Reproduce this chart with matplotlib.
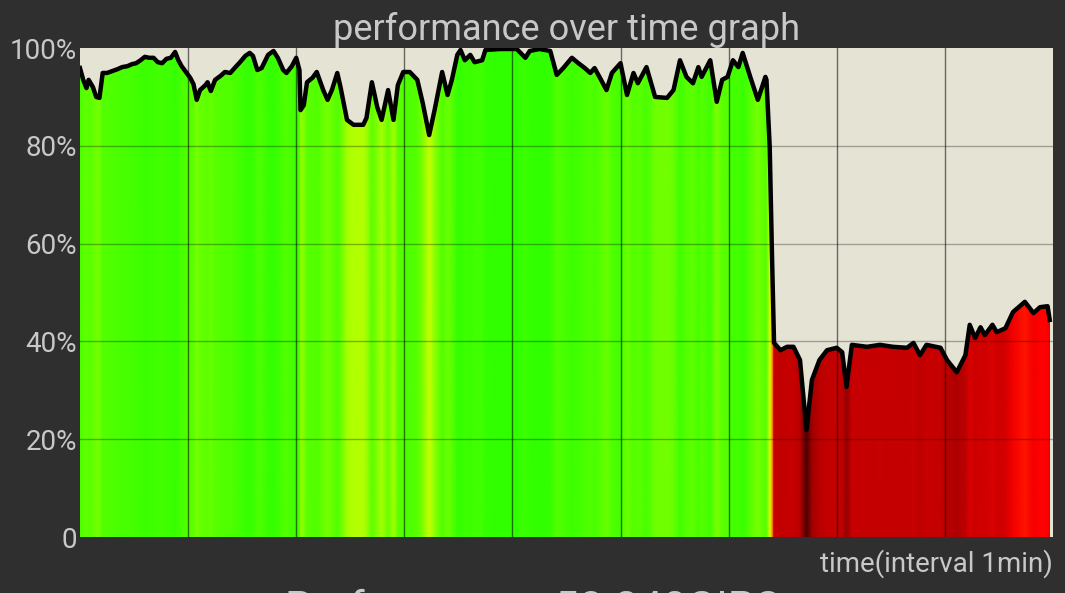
import numpy as np
import matplotlib
matplotlib.use("Agg")
import matplotlib.pyplot as plt
from matplotlib.colors import LinearSegmentedColormap, Normalize

# sample times (minutes) and performance (%)
times = [0.0, 0.3, 0.6, 0.8, 1.2, 1.5, 1.8, 2.1, 2.5, 3.0, 3.5, 3.9, 4.4, 4.8, 5.2, 5.6,
         6.0, 6.4, 6.8, 7.2, 7.6, 8.0, 8.4, 8.8, 9.1, 9.4, 9.8, 10.2, 10.5, 10.8, 11.1,
         11.6, 11.8, 12.1, 12.5, 13.0, 13.4, 13.9, 14.3, 14.8, 15.3, 15.7, 16.0, 16.4,
         16.8, 17.4, 17.9, 18.3, 18.8, 19.1, 19.6, 20.0, 20.3, 20.4, 20.7, 21.0, 21.5,
         21.9, 22.5, 22.9, 23.3, 23.8, 24.1, 24.7, 25.3, 26.2, 26.5, 27.0, 27.5, 27.9,
         28.5, 29.0, 29.4, 29.9, 30.5, 31.2, 31.7, 32.3, 32.8, 33.5, 34.0, 34.4, 34.9,
         35.2, 35.6, 36.1, 36.5, 37.2, 37.5, 38.9, 40.4, 41.2, 41.6, 42.5, 43.5, 44.1,
         44.7, 45.5, 46.1, 46.7, 47.2, 47.6, 48.1, 48.7, 49.2, 50.0, 50.6, 51.2, 51.6,
         52.4, 53.2, 54.3, 54.9, 55.5, 56.1, 56.7, 57.2, 57.5, 58.3, 58.9, 59.4, 59.9,
         60.4, 60.9, 61.3, 62.0, 62.7, 63.4, 63.5, 63.8, 64.0, 64.2, 64.8, 65.4, 66.0,
         66.6, 67.2, 67.7, 68.4, 69.1, 70.0, 70.5, 70.9, 71.4, 72.8, 74.0, 75.2, 76.5,
         77.1, 77.7, 78.3, 79.6, 80.2, 81.1, 81.9, 82.3, 82.8, 83.3, 83.7, 84.4, 84.8,
         85.6, 86.3, 87.4, 88.2, 88.8, 89.5, 89.7]
perf = [95.9, 93.5, 91.8, 93.5, 92.0, 90.0, 89.8, 94.9, 94.9, 95.3, 95.7, 96.1, 96.3,
        96.7, 96.9, 97.5, 98.2, 98.0, 98.0, 97.1, 96.9, 97.8, 98.0, 99.2, 97.5, 96.3,
        95.1, 93.9, 92.6, 89.4, 91.4, 92.4, 93.0, 91.2, 93.5, 94.3, 95.1, 94.9, 95.9,
        97.1, 98.4, 99.0, 98.4, 95.5, 95.9, 98.6, 99.4, 98.0, 95.5, 94.9, 96.3, 98.0,
        95.5, 87.3, 88.3, 93.0, 93.9, 95.1, 91.4, 89.4, 91.4, 94.9, 92.0, 85.3, 84.3,
        84.3, 85.7, 93.0, 87.9, 85.3, 91.4, 85.3, 92.4, 95.1, 95.1, 93.5, 88.8, 82.2,
        87.3, 95.1, 90.4, 93.5, 98.6, 99.6, 97.5, 98.6, 97.1, 97.5, 99.6, 99.8, 99.8,
        98.0, 99.4, 99.8, 99.4, 94.5, 95.9, 98.0, 96.9, 95.9, 94.9, 95.9, 93.9, 91.4,
        94.9, 96.9, 90.4, 94.9, 92.8, 96.1, 90.0, 89.8, 91.4, 97.5, 94.1, 92.8, 96.1,
        94.1, 97.5, 89.0, 93.5, 94.1, 97.5, 96.1, 99.0, 94.1, 89.4, 94.1, 93.5, 79.8,
        58.7, 39.7, 38.2, 38.9, 38.9, 36.2, 21.9, 32.1, 36.2, 38.2, 38.7, 37.8, 30.7,
        39.3, 38.9, 39.3, 38.9, 38.7, 39.7, 37.2, 39.3, 38.7, 36.2, 33.7, 37.2, 43.4,
        40.7, 42.9, 41.3, 43.4, 41.9, 42.7, 46.0, 48.1, 45.8, 47.0, 47.2, 44.4]

ytick_vals = [0, 20, 40, 60, 80, 100]
ytick_labels = ["0", "20%", "40%", "60%", "80%", "100%"]
title = "performance over time graph"
xlabel = "time(interval 1min)"
summary = "Performance: 58.240GIPS"

bg = "#2f2f2f"
txt = "#c8c8c8"

# value -> colour: dark red for low, bright red near 50, yellow-green to green at the top
perf_cmap = LinearSegmentedColormap.from_list("perf", [
    (0.00, "#000000"), (0.15, "#200000"), (0.22, "#4a0000"), (0.34, "#b00000"),
    (0.39, "#c60000"), (0.43, "#d40000"), (0.47, "#ff0000"), (0.55, "#ff8000"),
    (0.65, "#ffff00"), (0.82, "#ccff00"), (0.90, "#70ff00"), (1.00, "#30ff00")])

plt.rcParams["font.family"] = ["Roboto", "DejaVu Sans"]

fig = plt.figure(figsize=(10.65, 5.93), dpi=100, facecolor=bg)
ax = fig.add_axes([0.0751, 0.0944, 0.9136, 0.8246])
ax.set_facecolor("#e5e3d4")

t = np.array(times)
p = np.array(perf)

# colour stripes under the curve, clipped to the filled area
X = np.vstack([t, t])
Y = np.vstack([np.zeros_like(t), np.full_like(t, 100)])
C = np.vstack([p, p])
mesh = ax.pcolormesh(X, Y, C, cmap=perf_cmap, norm=Normalize(0, 100), shading="gouraud", zorder=1)
area = ax.fill_between(t, p, 0, facecolor="none", edgecolor="none")
mesh.set_clip_path(area.get_paths()[0], transform=ax.transData)

ax.plot(t, p, color="black", lw=3.2, zorder=3, solid_joinstyle="round")

ax.set_xlim(0, 90)
ax.set_ylim(0, 100)
ax.set_xticks(range(10, 90, 10))
ax.set_yticks(ytick_vals)
ax.set_yticklabels(ytick_labels)
ax.tick_params(axis="x", length=0, labelbottom=False)
ax.tick_params(axis="y", length=0, pad=2, labelsize=20, labelcolor=txt)
ax.set_axisbelow(False)
ax.xaxis.grid(True, color="black", alpha=0.55, lw=1)
ax.yaxis.grid(True, color="black", alpha=0.3, lw=1)
gl = ax.yaxis.get_gridlines()
gl[0].set_visible(False)
gl[-1].set_visible(False)
for s in ax.spines.values():
    s.set_visible(False)

ax.set_title(title, color=txt, fontsize=26, pad=4)
ax.text(1.0, -0.025, xlabel, transform=ax.transAxes, ha="right", va="top",
        color=txt, fontsize=20)
# summary line sits mostly below the bottom edge, as in the screenshot
fig.text(0.5, -0.047, summary, ha="center", va="baseline", color=txt, fontsize=31)

fig.savefig("out.png", dpi=100, facecolor=bg)
